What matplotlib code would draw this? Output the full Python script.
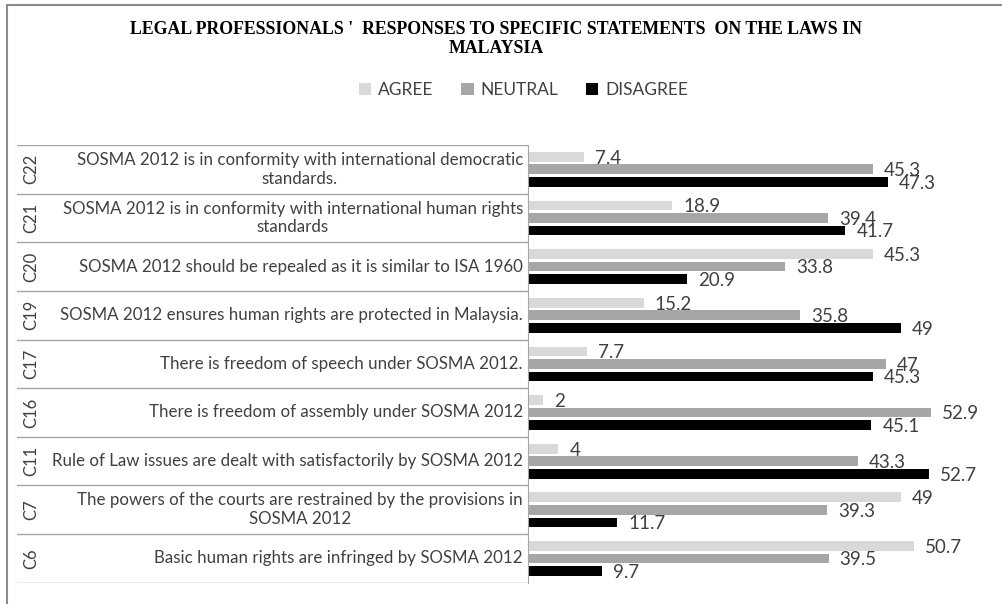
import matplotlib.pyplot as plt
from matplotlib.patches import Rectangle

codes = ['C22', 'C21', 'C20', 'C19', 'C17', 'C16', 'C11', 'C7', 'C6']
statements = [
    'SOSMA 2012 is in conformity with international democratic\nstandards.',
    'SOSMA 2012 is in conformity with international human rights\nstandards',
    'SOSMA 2012 should be repealed as it is similar to ISA 1960',
    'SOSMA 2012 ensures human rights are protected in Malaysia.',
    'There is freedom of speech under SOSMA 2012.',
    'There is freedom of assembly under SOSMA 2012',
    'Rule of Law issues are dealt with satisfactorily by SOSMA 2012',
    'The powers of the courts are restrained by the provisions in\nSOSMA 2012',
    'Basic human rights are infringed by SOSMA 2012',
]
agree = [7.4, 18.9, 45.3, 15.2, 7.7, 2, 4, 49, 50.7]
neutral = [45.3, 39.4, 33.8, 35.8, 47, 52.9, 43.3, 39.3, 39.5]
disagree = [47.3, 41.7, 20.9, 49, 45.3, 45.1, 52.7, 11.7, 9.7]

series = [('AGREE', agree, '#d9d9d9', -0.255),
          ('NEUTRAL', neutral, '#a6a6a6', 0.0),
          ('DISAGREE', disagree, '#000000', 0.26)]

plt.rcParams['font.family'] = ['Lato', 'DejaVu Sans']
TXT = '#404040'

W, H = 1003, 604
fig = plt.figure(figsize=(W / 100, H / 100), dpi=100)

# layout in pixels
x_axis, x_tab = 528, 17
y_top, y_bot = 145, 582.7
px_per_unit = 7.61
xmax = 60
ax_w = xmax * px_per_unit

ax = fig.add_axes([x_axis / W, 1 - y_bot / H, ax_w / W, (y_bot - y_top) / H])
tab = fig.add_axes([x_tab / W, 1 - y_bot / H, (x_axis - x_tab) / W, (y_bot - y_top) / H])

n = len(codes)
rows = list(range(n))
for name, vals, col, off in series:
    ypos = [r + off for r in rows]
    bars = ax.barh(ypos, vals, height=0.2, color=col, label=name)
    for b, v in zip(bars, vals):
        ax.annotate(f'{v:g}', (b.get_width(), b.get_y() + b.get_height() / 2),
                    xytext=(8, -1), textcoords='offset points',
                    ha='left', va='center', fontsize=13.5, color=TXT)

ax.set_xlim(0, xmax)
ax.set_ylim(n - 0.5, -0.5)
ax.set_xticks([])
ax.set_yticks([])
for s in ['top', 'right', 'bottom']:
    ax.spines[s].set_visible(False)
ax.spines['left'].set_color('#a6a6a6')
ax.patch.set_alpha(0)

# table of statements on the left
tab.set_xlim(0, 1)
tab.set_ylim(n - 0.5, -0.5)
tab.axis('off')
for k in range(n + 1):
    tab.axhline(k - 0.5, color='#a6a6a6', lw=1)
for r in rows:
    tab.text(0.028, r, codes[r], rotation=90, ha='center', va='center',
             fontsize=12, color=TXT)
    tab.text(0.99, r, statements[r], ha='right', va='center', multialignment='center',
             fontsize=12.2, color=TXT, linespacing=1.2)

fig.text(0.4945, 1 - 39 / H,
         "LEGAL PROFESSIONALS '  RESPONSES TO SPECIFIC STATEMENTS  ON THE LAWS IN\nMALAYSIA",
         ha='center', va='center', family='Liberation Serif', weight='bold',
         fontsize=12.8, linespacing=1.15, color='#000000')

handles, labels = ax.get_legend_handles_labels()
fig.legend(handles, labels, loc='center', bbox_to_anchor=(0.522, 1 - 90 / H), ncol=3,
           frameon=False, fontsize=12.5, handlelength=0.7, handleheight=0.7,
           handletextpad=0.4, columnspacing=1.6, labelcolor=TXT)

# outer chart frame
fig.add_artist(Rectangle((7 / W, -0.05), 1.0, 1 - 5 / H + 0.05, transform=fig.transFigure,
                         fill=False, edgecolor='#8c8c8c', lw=1.5))

fig.savefig('out.png', dpi=100)
